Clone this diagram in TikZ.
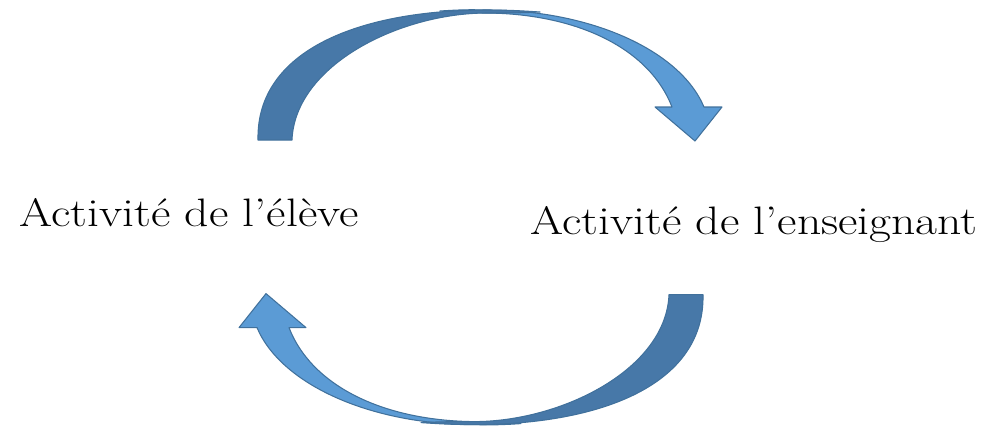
\documentclass[tikz,border=0pt]{standalone}
\usepackage{fontspec}
\setmainfont{Latin Modern Roman}[FakeStretch=1.2]
\usetikzlibrary{calc}

\definecolor{bandDark}{RGB}{71,120,168}
\definecolor{bandLight}{RGB}{91,155,213}
\definecolor{bandLine}{RGB}{65,113,156}

\tikzset{
	darkband/.style={fill=bandDark, draw=bandLine, line width=0.6pt, line join=round},
	lightband/.style={fill=bandLight, draw=bandLine, line width=0.6pt, line join=round},
	label/.style={font=\fontsize{22.6}{27}\selectfont, anchor=base, inner sep=0pt}
}

% one curved arrow, tail on the left, head on the right
\newcommand{\boucle}{%
	\draw[lightband] (440,11) .. controls (470,9) and (480,10) .. (487,10)
		.. controls (590,10) and (680,50) .. (704,107)
		-- (722,107) -- (695,141) -- (655,107) -- (672,107)
		.. controls (650,50) and (580,14) .. (487,13)
		.. controls (470,13) and (455,12) .. (440,11) -- cycle;
	\draw[darkband] (258,140) .. controls (256,50) and (360,10) .. (487,10)
		.. controls (510,10) and (525,11) .. (540,12)
		.. controls (520,13) and (505,13) .. (487,13)
		.. controls (400,13) and (295,65) .. (292,140) -- cycle;
}

\begin{document}
\begin{tikzpicture}[x=0.02cm, y=-0.02cm]
	\useasboundingbox (0,0) rectangle (994,427);
	\boucle
	\begin{scope}[rotate around={180:(480.5,217.3)}]
		\boucle
	\end{scope}
	\node[label] (eleve) at (189,226) {Activité de l'élève};
	\node[label] (enseignant) at (754,234) {Activité de l'enseignant};
\end{tikzpicture}
\end{document}
